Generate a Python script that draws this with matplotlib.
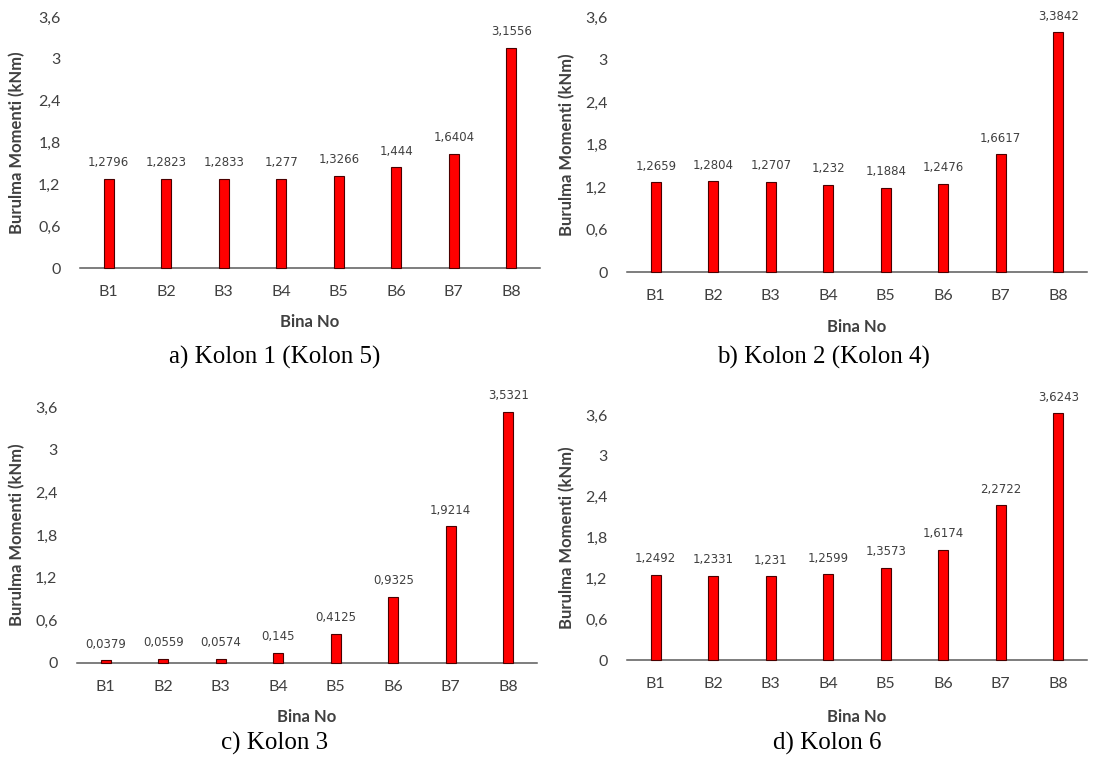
import matplotlib.pyplot as plt
import numpy as np

binalar = ['B1', 'B2', 'B3', 'B4', 'B5', 'B6', 'B7', 'B8']
kolon1 = [1.2796, 1.2823, 1.2833, 1.277, 1.3266, 1.444, 1.6404, 3.1556]
kolon2 = [1.2659, 1.2804, 1.2707, 1.232, 1.1884, 1.2476, 1.6617, 3.3842]
kolon3 = [0.0379, 0.0559, 0.0574, 0.145, 0.4125, 0.9325, 1.9214, 3.5321]
kolon6 = [1.2492, 1.2331, 1.231, 1.2599, 1.3573, 1.6174, 2.2722, 3.6243]
yticks = [0, 0.6, 1.2, 1.8, 2.4, 3, 3.6]
basliklar = ['a) Kolon 1 (Kolon 5)', 'b) Kolon 2 (Kolon 4)', 'c) Kolon 3', 'd) Kolon 6']

W, H = 1098, 765
fig = plt.figure(figsize=(W / 100, H / 100), dpi=100)

# eksen kutulari piksel olarak: sol, sag, alt(0), ust(3.6)
kutular = [(80, 540, 268, 17), (627, 1087, 272, 17),
           (77, 537, 663, 407), (627, 1087, 660, 415)]
baslik_yer = [(275, 357), (823, 357), (275, 743), (827, 743)]
xlabel_y = [322, 327, 717, 717]
ylabel_x = [17, 567, 17, 567]
veriler = [kolon1, kolon2, kolon3, kolon6]

def fmt(v):
    s = ('%.4f' % v).rstrip('0').rstrip('.')
    return s.replace('.', ',')

for i in range(4):
    l, r, b, t = kutular[i]
    ax = fig.add_axes([l / W, 1 - b / H, (r - l) / W, (b - t) / H])
    x = np.arange(len(binalar))
    ax.bar(x, veriler[i], width=0.18, color='#ff0000', edgecolor='#4a0000',
           linewidth=0.8, clip_on=False, zorder=3)
    for xi, v in zip(x, veriler[i]):
        ax.annotate(fmt(v), (xi, v), xytext=(0, 7), textcoords='offset points',
                    ha='center', va='bottom', fontsize=8.5, color='#404040',
                    family='DejaVu Sans', annotation_clip=False)
    ax.set_xlim(-0.5, 7.5)
    ax.set_ylim(0, 3.6)
    ax.set_yticks(yticks)
    ax.set_yticklabels([fmt(v) for v in yticks])
    ax.set_xticks(x)
    ax.set_xticklabels(binalar)
    for s in ['top', 'right', 'left']:
        ax.spines[s].set_visible(False)
    ax.spines['bottom'].set_color('#5a5a5a')
    ax.spines['bottom'].set_linewidth(1.1)
    ax.tick_params(axis='both', length=0, labelsize=11.5, colors='#404040')
    ax.tick_params(axis='x', pad=12)
    ax.tick_params(axis='y', pad=14)
    for lab in ax.get_xticklabels() + ax.get_yticklabels():
        lab.set_family('Lato')
    ax.patch.set_alpha(0)

    fig.text((l + r) / 2 / W, 1 - xlabel_y[i] / H, 'Bina No', ha='center', va='center',
             fontsize=12, fontweight='bold', color='#404040', family='Lato')
    fig.text(ylabel_x[i] / W, 1 - (b + t) / 2 / H, 'Burulma Momenti (kNm)', rotation=90,
             ha='center', va='center', fontsize=12, fontweight='bold', color='#404040',
             family='Lato')
    bx, by = baslik_yer[i]
    fig.text(bx / W, 1 - by / H, basliklar[i], ha='center', va='center', fontsize=18,
             family='Liberation Serif', color='black')

fig.savefig('out.png', dpi=100)
